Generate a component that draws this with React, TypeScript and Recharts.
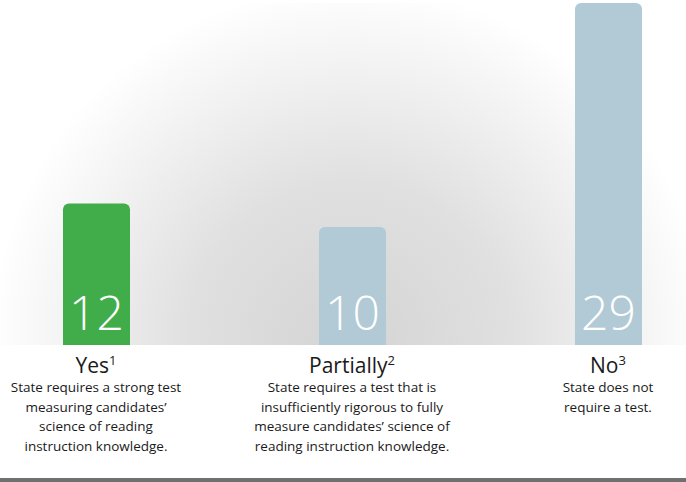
import React from 'react';
import { BarChart, Bar, XAxis, YAxis, CartesianGrid, Cell, LabelList } from 'recharts';

const categories = ['Yes', 'Partially', 'No'];
const footnotes = ['1', '2', '3'];
const stateCounts = [12, 10, 29];
const descriptions = [
  ['State requires a strong test', 'measuring candidates\u2019', 'science of reading', 'instruction knowledge.'],
  ['State requires a test that is', 'insufficiently rigorous to fully', 'measure candidates\u2019 science of', 'reading instruction knowledge.'],
  ['State does not', 'require a test.'],
];
const barColors = ['#41ad4a', '#b1cad5', '#b1cad5'];

const data = categories.map((c, i) => ({
  category: c,
  note: footnotes[i],
  states: stateCounts[i],
  desc: descriptions[i],
}));

const FONT = '"Open Sans", "Noto Sans", sans-serif';

function CategoryTick(props: any) {
  const { x, y, index } = props;
  const row = data[index];
  if (!row) return null;
  return (
    <g>
      <text x={x} y={y + 28} textAnchor="middle" fontFamily={FONT} fontSize={21} fill="#1a1a1a">
        <tspan>{row.category}</tspan>
        <tspan dy={-8} fontSize={13}>{row.note}</tspan>
      </text>
      {row.desc.map((line, i) => (
        <text key={i} x={x} y={y + 47 + i * 19.5} textAnchor="middle" fontFamily={FONT} fontSize={13.5} fill="#1a1a1a">
          {line}
        </text>
      ))}
    </g>
  );
}

function CountLabel(props: any) {
  const { x, y, width, height, value } = props;
  return (
    <text x={x + width / 2} y={y + height - 15} textAnchor="middle" fontFamily={FONT} fontWeight={300} fontSize={48} fill="#ffffff">
      {value}
    </text>
  );
}

export default function App() {
  return (
    <div style={{ position: 'absolute', left: 0, top: 0, width: 686, height: 482, background: '#fff', overflow: 'hidden' }}>
      <BarChart width={686} height={482} data={data} margin={{ top: 3, right: -50, bottom: 0, left: -32 }}>
        <defs>
          <radialGradient id="glow" gradientUnits="userSpaceOnUse" cx={350} cy={345} r={360}>
            <stop offset="0%" stopColor="#d4d4d4" />
            <stop offset="45%" stopColor="#e0e0e0" />
            <stop offset="100%" stopColor="#ffffff" />
          </radialGradient>
        </defs>
        <CartesianGrid horizontal={false} vertical={false} fill="url(#glow)" fillOpacity={1} />
        <XAxis
          dataKey="category"
          axisLine={false}
          tickLine={false}
          tickSize={0}
          tickMargin={0}
          interval={0}
          height={137}
          tick={<CategoryTick />}
        />
        <YAxis hide domain={[0, 29]} />
        <Bar dataKey="states" barSize={67} radius={[6, 6, 0, 0]} isAnimationActive={false}>
          {data.map((d, i) => (
            <Cell key={d.category} fill={barColors[i]} />
          ))}
          <LabelList dataKey="states" content={<CountLabel />} />
        </Bar>
      </BarChart>
      <div style={{ position: 'absolute', left: 0, top: 478, width: 686, height: 4, background: '#707070' }} />
    </div>
  );
}
